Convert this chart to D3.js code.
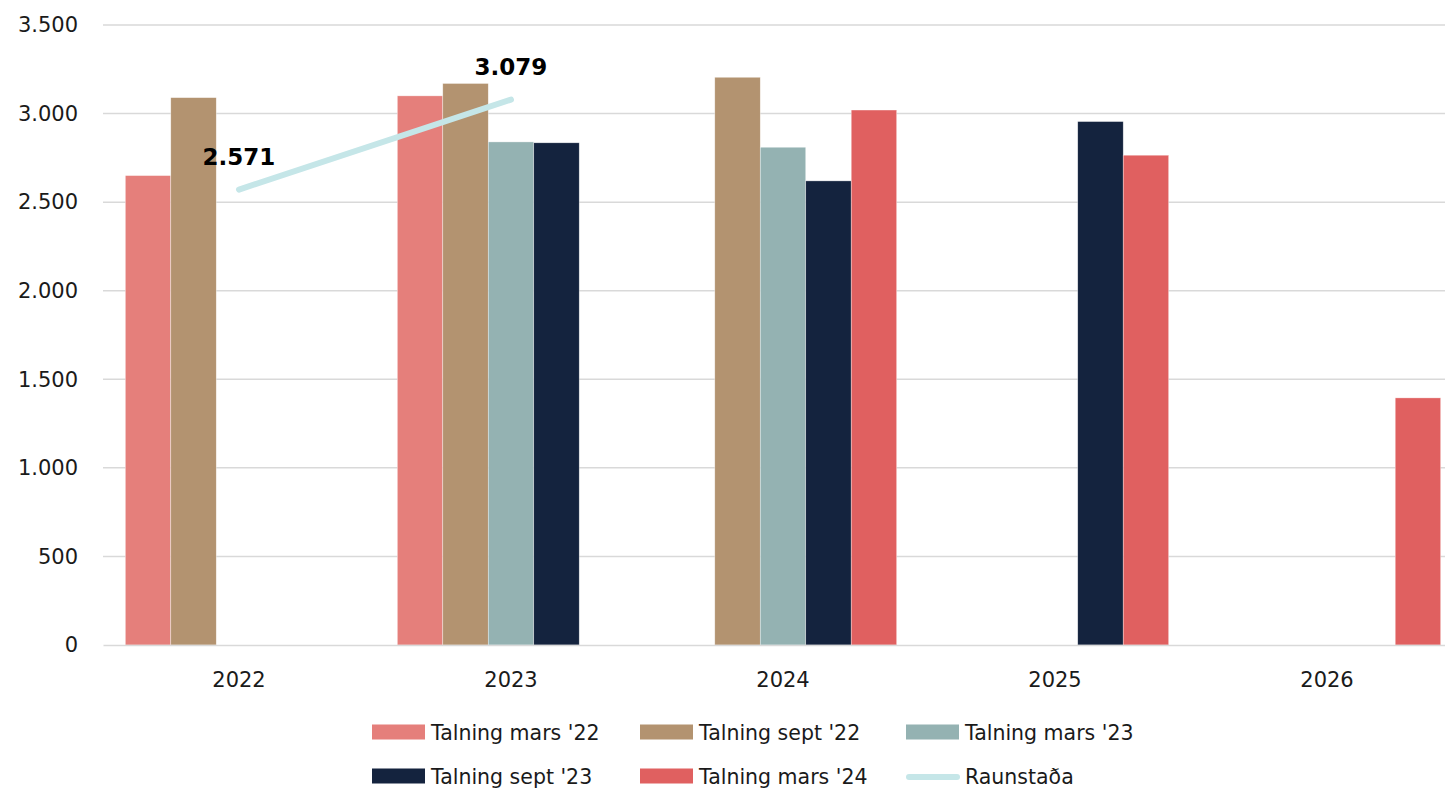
<!DOCTYPE html>
<html>
<head>
<meta charset="utf-8">
<script src="https://cdn.jsdelivr.net/npm/d3@7"></script>
<style>
  html, body { margin: 0; padding: 0; background: #fff; }
  svg { display: block; font-family: "DejaVu Sans", sans-serif; }
</style>
</head>
<body>
<svg id="chart" width="1445" height="789"></svg>
<script>
// Years on the x axis
const years = ["2022", "2023", "2024", "2025", "2026"];

// Forecast counts (null = no bar for that year)
const talningMars22 = [2650, 3100, null, null, null];
const talningSept22 = [3090, 3170, 3205, null, null];
const talningMars23 = [null, 2840, 2810, null, null];
const talningSept23 = [null, 2835, 2620, 2955, null];
const talningMars24 = [null, null, 3020, 2765, 1395];

// Actual outcome line
const raunYears = ["2022", "2023"];
const raunstada = [2571, 3079];

const yTicks = [0, 500, 1000, 1500, 2000, 2500, 3000, 3500];

const series = [
  { name: "Talning mars '22", values: talningMars22, color: "#e57f7b" },
  { name: "Talning sept '22", values: talningSept22, color: "#b39370" },
  { name: "Talning mars '23", values: talningMars23, color: "#94b2b2" },
  { name: "Talning sept '23", values: talningSept23, color: "#14233e" },
  { name: "Talning mars '24", values: talningMars24, color: "#e06060" }
];
const lineColor = "#c5e6e8";

const svg = d3.select("#chart");
const plotLeft = 103, plotRight = 1463, plotTop = 25, plotBottom = 645;

const x = d3.scaleBand().domain(years).range([plotLeft, plotRight]).paddingInner(0.164).paddingOuter(0.082);
const xSub = d3.scaleBand().domain(series.map(s => s.name)).range([0, x.bandwidth()]);
const y = d3.scaleLinear().domain([0, 3500]).range([plotBottom, plotTop]);
const fmt = v => d3.format(",")(v).replace(/,/g, ".");

// Gridlines
svg.append("g")
  .selectAll("line")
  .data(yTicks.filter(t => t > 0))
  .join("line")
  .attr("x1", plotLeft).attr("x2", plotRight)
  .attr("y1", d => y(d)).attr("y2", d => y(d))
  .attr("stroke", "#d9d9d9").attr("stroke-width", 1.5);

// Y axis labels
const yAxis = svg.append("g")
  .attr("transform", `translate(${plotLeft},0)`)
  .call(d3.axisLeft(y).tickValues(yTicks).tickFormat(fmt).tickSize(0).tickPadding(25));
yAxis.select(".domain").remove();
yAxis.selectAll("text").attr("font-size", 21).attr("fill", "#1a1a1a").attr("font-family", "DejaVu Sans");

// Bars
series.forEach(s => {
  svg.append("g")
    .selectAll("rect")
    .data(years.map((yr, i) => ({ yr, v: s.values[i] })).filter(d => d.v != null))
    .join("rect")
    .attr("x", d => x(d.yr) + xSub(s.name))
    .attr("width", xSub.bandwidth())
    .attr("y", d => y(d.v))
    .attr("height", d => y(0) - y(d.v))
    .attr("fill", s.color)
    .attr("stroke", "#ffffff").attr("stroke-width", 0.6).attr("stroke-opacity", 0.6);
});

// X axis
const xAxis = svg.append("g")
  .attr("transform", `translate(0,${plotBottom})`)
  .call(d3.axisBottom(x).tickSize(0).tickPadding(27));
xAxis.select(".domain").attr("stroke", "#d9d9d9").attr("stroke-width", 1.5);
xAxis.selectAll("text").attr("font-size", 21).attr("fill", "#1a1a1a").attr("font-family", "DejaVu Sans");

// Raunstaða line
const linePts = raunYears.map((yr, i) => ({ x: x(yr) + x.bandwidth() / 2, v: raunstada[i] }));
svg.append("path")
  .datum(linePts)
  .attr("d", d3.line().x(d => d.x).y(d => y(d.v)))
  .attr("fill", "none")
  .attr("stroke", lineColor).attr("stroke-width", 6).attr("stroke-linecap", "round");

svg.append("g")
  .selectAll("text")
  .data(linePts)
  .join("text")
  .attr("x", d => d.x)
  .attr("y", d => y(d.v) - 25)
  .attr("text-anchor", "middle")
  .attr("font-family", "DejaVu Sans").attr("font-weight", "bold").attr("font-size", 23)
  .attr("fill", "#000")
  .text(d => fmt(d.v));

// Legend
const legendItems = series.map(s => ({ name: s.name, color: s.color, type: "bar" }))
  .concat([{ name: "Raunstaða", color: lineColor, type: "line" }]);
const colX = [372, 640, 906];
const rowY = [732, 776];
const legend = svg.append("g");
legendItems.forEach((d, i) => {
  const cx = colX[i % 3], cy = rowY[Math.floor(i / 3)];
  if (d.type === "bar") {
    legend.append("rect").attr("x", cx).attr("y", cy - 7.5).attr("width", 53).attr("height", 15).attr("fill", d.color);
  } else {
    legend.append("line").attr("x1", cx + 3).attr("x2", cx + 51).attr("y1", cy + 1).attr("y2", cy + 1)
      .attr("stroke", d.color).attr("stroke-width", 6).attr("stroke-linecap", "round");
  }
  legend.append("text").attr("x", cx + 59).attr("y", cy).attr("dy", "0.37em")
    .attr("font-size", 20.5).attr("fill", "#1a1a1a").attr("font-family", "DejaVu Sans")
    .text(d.name);
});
</script>
</body>
</html>
